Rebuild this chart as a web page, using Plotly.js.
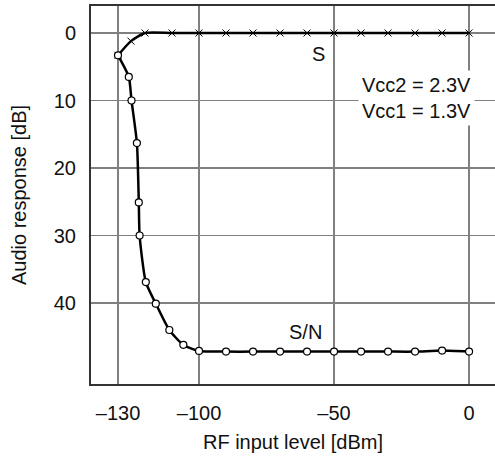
<!DOCTYPE html>
<html>
<head>
<meta charset="utf-8">
<script src="https://cdn.plot.ly/plotly-3.0.1.min.js"></script>
<style>html,body{margin:0;padding:0;background:#fff;overflow:hidden;}#chart{width:495px;height:460px;}</style>
</head>
<body>
<div id="chart"></div>
<script>
// S curve (x markers)
const sX = [-130, -125.2, -120, -110, -100, -90, -80, -70, -60, -50, -40, -30, -20, -10, 0];
const sY = [3.3, 1.2, 0, 0, 0, 0, 0, 0, 0, 0, 0, 0, 0, 0, 0];
// S/N curve (open circles)
const snX = [-130, -126, -125, -123, -122.3, -122, -119.7, -116, -111, -105.8, -100, -90, -80, -70, -60, -50, -40, -30, -20, -10, 0];
const snY = [3.3, 6.5, 10, 16.3, 25.1, 30, 36.9, 40.1, 44, 46.2, 47.1, 47.2, 47.2, 47.2, 47.2, 47.2, 47.2, 47.2, 47.2, 47.05, 47.2];
const xTickVals = [-130, -100, -50, 0];
const xTickText = ['\u2013130', '\u2013100', '\u201350', '0'];
const yTickVals = [0, 10, 20, 30, 40];
const yTickText = ['0', '10', '20', '30', '40'];

const font = {family: 'Liberation Sans, Arial, sans-serif', size: 20, color: '#111'};

const traces = [
  {x: sX, y: sY, mode: 'lines+markers', line: {color: '#000', width: 2.5, shape: 'spline', smoothing: 0.6},
   marker: {symbol: 'x-thin-open', size: 7, color: '#000', line: {color: '#222', width: 1}}, hoverinfo: 'skip'},
  {x: snX, y: snY, mode: 'lines+markers', line: {color: '#000', width: 2.5, shape: 'spline', smoothing: 0.6},
   marker: {symbol: 'circle', size: 7, color: '#fff', line: {color: '#000', width: 1.2}}, hoverinfo: 'skip'}
];

const layout = {
  width: 495, height: 460,
  margin: {l: 91, r: 0, t: 6, b: 76},
  paper_bgcolor: '#fff', plot_bgcolor: '#fff',
  showlegend: false,
  font: font,
  xaxis: {
    range: [-140, 9.6], tickvals: xTickVals, ticktext: xTickText,
    showgrid: true, gridcolor: '#808080', gridwidth: 1.5, zeroline: false,
    showline: true, linecolor: '#333', linewidth: 2, mirror: true,
    ticks: '', ticklabelstandoff: 10,
    tickfont: font,
    title: {text: 'RF input level [dBm]', font: font, standoff: 12}
  },
  yaxis: {
    range: [52, -4], tickvals: yTickVals, ticktext: yTickText,
    showgrid: true, gridcolor: '#808080', gridwidth: 1.5, zeroline: false,
    showline: true, linecolor: '#333', linewidth: 2, mirror: false,
    ticks: '', ticklabelstandoff: 9,
    tickfont: font,
    title: {text: 'Audio response [dB]', font: font, standoff: 22}
  },
  annotations: [
    {x: -55.6, y: 3.1, xref: 'x', yref: 'y', text: 'S', showarrow: false, font: font},
    {x: -19.4, y: 9.6, xref: 'x', yref: 'y', text: 'Vcc2 = 2.3V<br>Vcc1 = 1.3V', showarrow: false,
     font: font, bgcolor: '#fff', borderpad: 3},
    {x: -60.5, y: 44.3, xref: 'x', yref: 'y', text: 'S/N', showarrow: false, font: font}
  ]
};

Plotly.newPlot('chart', traces, layout, {displayModeBar: false, staticPlot: true});
</script>
</body>
</html>
